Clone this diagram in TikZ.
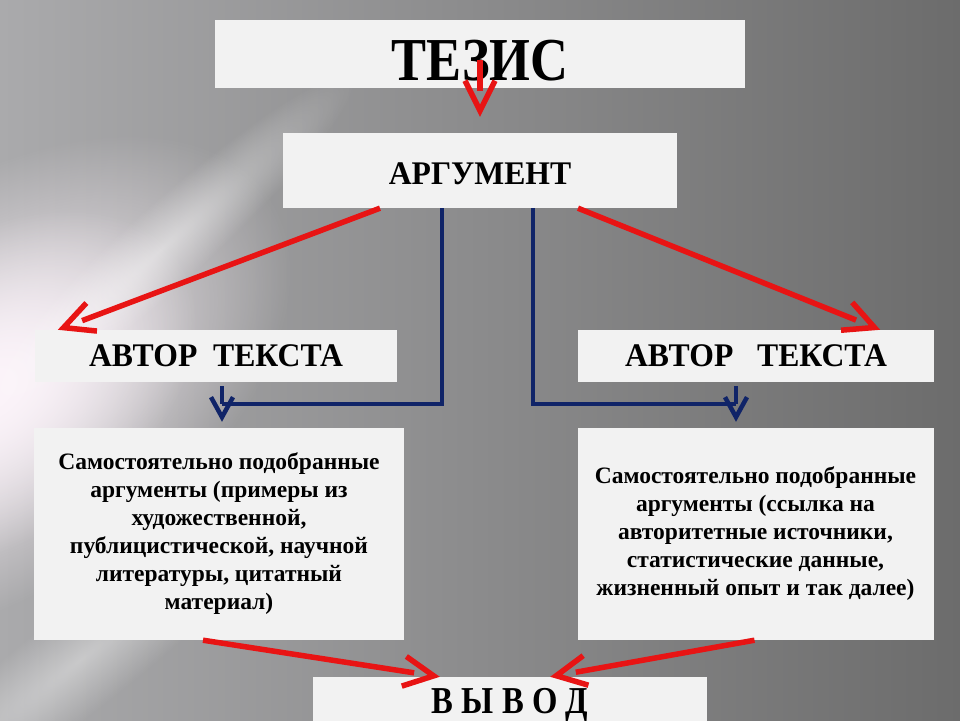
\documentclass[tikz,border=0pt]{standalone}
\usepackage{fontspec}
\newfontfamily\rusfont{Liberation Serif}[FakeStretch=0.86]
\newfontfamily\capfont{Liberation Serif}[FakeStretch=0.96]
\newfontfamily\bodyfont{Liberation Serif}
\usetikzlibrary{arrows.meta,decorations.markings,fadings}
\definecolor{arrred}{RGB}{232,20,20}
\definecolor{arrnavy}{RGB}{16,36,104}
\definecolor{boxfill}{RGB}{242,242,242}
\definecolor{bgleft}{RGB}{170,170,172}
\definecolor{bgright}{RGB}{108,108,108}
\definecolor{glowcol}{RGB}{252,244,250}
\tikzfading[name=glow, inner color=transparent!0, outer color=transparent!100]

\begin{document}
\begin{tikzpicture}[x=1pt,y=-1pt]
\tikzset{
  box/.style={fill=boxfill, inner sep=0pt, align=center},
  redarr/.style={draw=arrred, line width=5.5pt, shorten >=26pt,
    postaction={decorate, decoration={markings, mark=at position 1 with
      {\arrow[arrred,line width=5.5pt]{Straight Barb[length=30pt,width=30pt]}}}}},
  navyline/.style={draw=arrnavy, line width=4.5pt},
  navyarr/.style={navyline, shorten >=18pt,
    postaction={decorate, decoration={markings, mark=at position 1 with
      {\arrow[arrnavy,line width=4.5pt]{Straight Barb[length=20pt,width=22pt]}}}}}
}
\useasboundingbox (0,0) rectangle (960,720);
% background
\shade[left color=bgleft, right color=bgright] (0,0) rectangle (960,720);
\begin{scope}[transform canvas={rotate around={35:(-10,390)}}]
  \fill[glowcol, path fading=glow] (-10,390) ellipse [x radius=340, y radius=200];
  \fill[glowcol, path fading=glow] (-10,390) ellipse [x radius=230, y radius=150];
\end{scope}
\begin{scope}[transform canvas={rotate around={42:(160,250)}}]
  \fill[white, opacity=.45, path fading=glow] (160,250) ellipse [x radius=260, y radius=40];
\end{scope}
\begin{scope}[transform canvas={rotate around={38:(80,660)}}]
  \fill[white, opacity=.4, path fading=glow] (80,660) ellipse [x radius=280, y radius=50];
\end{scope}

% boxes
\node[box, minimum width=530pt, minimum height=68pt, text height=52pt, text depth=0pt,
  font=\rusfont\bfseries\fontsize{61}{61}\selectfont] (tezis) at (480,54) {ТЕЗИС};
\node[box, minimum width=394pt, minimum height=75pt, text height=28pt, text depth=0pt,
  font=\capfont\bfseries\fontsize{33}{33}\selectfont] (arg) at (480,170.5) {АРГУМЕНТ};
\node[box, minimum width=362pt, minimum height=52pt,
  font=\capfont\bfseries\fontsize{33}{33}\selectfont] (authorL) at (216,356) {АВТОР\ \ ТЕКСТА};
\node[box, minimum width=356pt, minimum height=52pt,
  font=\capfont\bfseries\fontsize{33}{33}\selectfont] (authorR) at (756,356) {АВТОР\ \ \ ТЕКСТА};
\node[box, minimum width=370pt, minimum height=212pt,
  font=\bodyfont\bfseries\fontsize{23.5}{28}\selectfont] (textL) at (219,534)
  {Самостоятельно подобранные\\ аргументы (примеры из\\ художественной,\\
   публицистической, научной\\ литературы, цитатный\\ материал)};
\node[box, minimum width=356pt, minimum height=212pt,
  font=\bodyfont\bfseries\fontsize{23.5}{28}\selectfont] (textR) at (755.5,534)
  {Самостоятельно подобранные\\ аргументы (ссылка на\\ авторитетные источники,\\
   статистические данные,\\ жизненный опыт и так далее)};
\node[box, minimum width=394pt, minimum height=46pt, text height=26pt, text depth=0pt,
  font=\rusfont\bfseries\fontsize{38}{38}\selectfont] (vyvod) at (510,700) {В Ы В О Д};

% blue connectors
\coordinate (kneeL) at (222,404);
\coordinate (kneeR) at (736,404);
\draw[navyline] ([xshift=-38pt]arg.south) |- (kneeL);
\draw[navyline] ([xshift=53pt]arg.south) |- (kneeR);
\draw[navyarr] ([yshift=-4pt]authorL.south -| kneeL) -- ([yshift=6pt]textL.north -| kneeL);
\draw[navyarr] ([yshift=-4pt]authorR.south -| kneeR) -- ([yshift=6pt]textR.north -| kneeR);

% red arrows
\draw[redarr] ([yshift=-6pt]tezis.center) -- ([yshift=16pt]arg.north);
\draw[redarr] ([xshift=-100pt]arg.south) -- ([xshift=23pt]authorL.north west);
\draw[redarr] ([xshift=98pt]arg.south) -- ([xshift=-54pt]authorR.north east);
\draw[redarr] ([xshift=-16pt]textL.south) -- ([xshift=127pt]vyvod.north west);
\draw[redarr] ([xshift=-1pt]textR.south) -- ([xshift=-157pt]vyvod.north east);
\end{tikzpicture}
\end{document}
